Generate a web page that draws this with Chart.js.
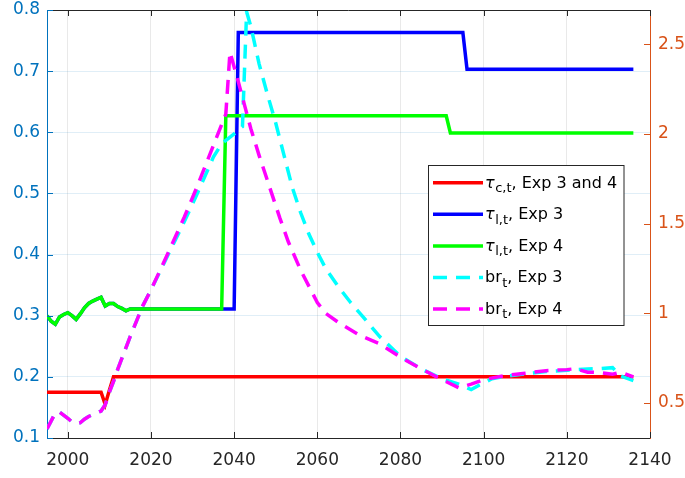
<!DOCTYPE html>
<html>
<head>
<meta charset="utf-8">
<script src="https://cdn.jsdelivr.net/npm/chart.js@4"></script>
<style>
  html, body { margin: 0; padding: 0; background: #ffffff; }
  canvas { display: block; }
</style>
</head>
<body>
<canvas id="chart" width="685" height="478"></canvas>
<script>
// ---- tick labels ----
const xTicks = [2000, 2020, 2040, 2060, 2080, 2100, 2120, 2140];
const leftTicks = [0.1, 0.2, 0.3, 0.4, 0.5, 0.6, 0.7, 0.8];
const rightTicks = [0.5, 1, 1.5, 2, 2.5];

// ---- consumption tax rate, Exp 3 and 4 ----
const yearsTauC = [1995, 2008, 2009, 2010, 2011, 2136];
const tauC      = [0.175, 0.175, 0.155, 0.178, 0.2, 0.2];

// ---- labour tax rate, Exp 3 ----
const yearsTauL3 = [1995, 1996, 1997, 1998, 1999, 2000, 2001, 2002, 2003, 2004, 2005,
                    2006, 2007, 2008, 2009, 2010, 2011, 2012, 2013, 2014, 2015,
                    2040, 2041, 2095, 2096, 2136];
const tauL3      = [0.300, 0.291, 0.286, 0.298, 0.302, 0.305, 0.300, 0.294, 0.303, 0.313, 0.320,
                    0.324, 0.327, 0.330, 0.316, 0.320, 0.320, 0.315, 0.312, 0.308, 0.311,
                    0.311, 0.763, 0.763, 0.703, 0.703];

// ---- labour tax rate, Exp 4 ----
const yearsTauL4 = [1995, 1996, 1997, 1998, 1999, 2000, 2001, 2002, 2003, 2004, 2005,
                    2006, 2007, 2008, 2009, 2010, 2011, 2012, 2013, 2014, 2015,
                    2037, 2038, 2091, 2092, 2136];
const tauL4      = [0.300, 0.291, 0.286, 0.298, 0.302, 0.305, 0.300, 0.294, 0.303, 0.313, 0.320,
                    0.324, 0.327, 0.330, 0.316, 0.320, 0.320, 0.315, 0.312, 0.308, 0.311,
                    0.311, 0.627, 0.627, 0.599, 0.599];

// ---- debt ratio br, Exp 3 ----
const yearsBr3 = [1995, 1997, 1998, 2000, 2001, 2002, 2003, 2004, 2005, 2006, 2007, 2008,
                  2009, 2010, 2011, 2012, 2015, 2018, 2020, 2024, 2028, 2031, 2035, 2037,
                  2040, 2042, 2043, 2044, 2046, 2048, 2050, 2052, 2054, 2056, 2058, 2060,
                  2062, 2065, 2068, 2071, 2075, 2080, 2085, 2090, 2094, 2097, 2099, 2102,
                  2105, 2110, 2115, 2120, 2125, 2128, 2131, 2133, 2136];
const br3      = [0.355, 0.445, 0.450, 0.415, 0.395, 0.385, 0.390, 0.410, 0.425, 0.435, 0.445, 0.455,
                  0.490, 0.560, 0.620, 0.687, 0.870, 1.040, 1.130, 1.320, 1.510, 1.660, 1.870, 1.945,
                  2.000, 2.040, 2.680, 2.600, 2.390, 2.220, 2.060, 1.880, 1.700, 1.560, 1.440, 1.340,
                  1.250, 1.150, 1.060, 0.980, 0.870, 0.760, 0.690, 0.635, 0.605, 0.575, 0.600, 0.635,
                  0.648, 0.663, 0.675, 0.683, 0.689, 0.692, 0.697, 0.650, 0.625];

// ---- debt ratio br, Exp 4 ----
const yearsBr4 = [1995, 1997, 1998, 2000, 2001, 2002, 2003, 2004, 2005, 2006, 2007, 2008,
                  2009, 2010, 2011, 2012, 2015, 2018, 2020, 2024, 2028, 2031, 2035, 2038,
                  2039, 2041, 2044, 2046, 2048, 2051, 2053, 2056, 2058, 2060, 2062, 2065,
                  2070, 2075, 2080, 2085, 2090, 2094, 2097, 2100, 2105, 2110, 2115, 2120,
                  2122, 2125, 2128, 2131, 2133, 2136];
const br4      = [0.355, 0.445, 0.450, 0.415, 0.395, 0.385, 0.390, 0.410, 0.425, 0.435, 0.445, 0.455,
                  0.490, 0.560, 0.620, 0.687, 0.870, 1.040, 1.130, 1.330, 1.535, 1.700, 1.935, 2.110,
                  2.456, 2.290, 2.030, 1.880, 1.740, 1.530, 1.400, 1.240, 1.150, 1.060, 1.000, 0.950,
                  0.880, 0.830, 0.755, 0.690, 0.630, 0.585, 0.605, 0.630, 0.652, 0.666, 0.680, 0.686,
                  0.691, 0.672, 0.670, 0.660, 0.672, 0.646];

const FONT = 'DejaVu Sans';
const LEFT_COLOR = '#0072BD';
const RIGHT_COLOR = '#D95319';
const DARK = '#262626';

const toPoints = (xs, ys) => xs.map((x, i) => ({ x: x, y: ys[i] }));

// legend text: [symbol, subscript, rest], symbol italic when Greek
const series = [
  { text: ['τ', 'c,t', ', Exp 3 and 4'], italic: true, years: yearsTauC, values: tauC,
    color: '#FF0000', axis: 'y', dash: [], order: 5 },
  { text: ['τ', 'l,t', ', Exp 3'], italic: true, years: yearsTauL3, values: tauL3,
    color: '#0000FF', axis: 'y', dash: [], order: 4 },
  { text: ['τ', 'l,t', ', Exp 4'], italic: true, years: yearsTauL4, values: tauL4,
    color: '#00FF00', axis: 'y', dash: [], order: 3 },
  { text: ['br', 't', ', Exp 3'], italic: false, years: yearsBr3, values: br3,
    color: '#00FFFF', axis: 'y2', dash: [14, 9], order: 2 },
  { text: ['br', 't', ', Exp 4'], italic: false, years: yearsBr4, values: br4,
    color: '#FF00FF', axis: 'y2', dash: [14, 9], order: 1 }
];

const LINE_WIDTH = 3.5;

const datasets = series.map(s => ({
  label: s.text.join(''),
  data: toPoints(s.years, s.values),
  borderColor: s.color,
  backgroundColor: s.color,
  borderWidth: LINE_WIDTH,
  borderDash: s.dash,
  borderCapStyle: 'butt',
  yAxisID: s.axis,
  pointRadius: 0,
  pointHoverRadius: 0,
  tension: 0,
  fill: false,
  order: s.order
}));

const setTicks = arr => scale => { scale.ticks = arr.map(v => ({ value: v })); };

// fixed axis sizes so the plot box sits at 47..650 x 10..438
const fitY = width => scale => {
  scale.width = width;
  scale.paddingTop = 10;
  scale.paddingBottom = 0;
};
const fitX = scale => {
  scale.height = 40;
  scale.paddingLeft = 0;
  scale.paddingRight = 0;
};

// box outline and inward tick marks
const framePlugin = {
  id: 'frame',
  afterDatasetsDraw(chart) {
    const { ctx, chartArea: a, scales } = chart;
    const len = 6;
    ctx.save();
    ctx.lineWidth = 1;
    ctx.strokeStyle = DARK;
    ctx.beginPath();
    ctx.moveTo(a.left, a.top + 0.5);
    ctx.lineTo(a.right, a.top + 0.5);
    xTicks.forEach(v => {
      const px = Math.round(scales.x.getPixelForValue(v)) + 0.5;
      ctx.moveTo(px, a.bottom); ctx.lineTo(px, a.bottom - len);
      ctx.moveTo(px, a.top); ctx.lineTo(px, a.top + len);
    });
    ctx.stroke();
    ctx.strokeStyle = LEFT_COLOR;
    ctx.beginPath();
    leftTicks.forEach(v => {
      const py = Math.round(scales.y.getPixelForValue(v)) + 0.5;
      ctx.moveTo(a.left, py); ctx.lineTo(a.left + len, py);
    });
    ctx.stroke();
    ctx.strokeStyle = RIGHT_COLOR;
    ctx.beginPath();
    rightTicks.forEach(v => {
      const py = Math.round(scales.y2.getPixelForValue(v)) + 0.5;
      ctx.moveTo(a.right, py); ctx.lineTo(a.right - len, py);
    });
    ctx.stroke();
    ctx.restore();
  }
};

// boxed legend with subscripted labels
const legendPlugin = {
  id: 'subLegend',
  afterDraw(chart) {
    const ctx = chart.ctx;
    const box = { x: 428.5, y: 165.5, w: 195.5, h: 160 };
    const firstRow = 182.7, rowStep = 31.6;
    ctx.save();
    ctx.fillStyle = '#ffffff';
    ctx.fillRect(box.x, box.y, box.w, box.h);
    ctx.strokeStyle = DARK;
    ctx.lineWidth = 1;
    ctx.strokeRect(box.x, box.y, box.w, box.h);
    series.forEach((s, i) => {
      const cy = firstRow + i * rowStep;
      ctx.save();
      ctx.strokeStyle = s.color;
      ctx.lineWidth = LINE_WIDTH;
      ctx.lineCap = 'butt';
      ctx.setLineDash(s.dash);
      ctx.beginPath();
      ctx.moveTo(433, cy);
      ctx.lineTo(483, cy);
      ctx.stroke();
      ctx.restore();
      const base = cy + 4.8;
      let x = 485;
      ctx.fillStyle = '#000000';
      ctx.textBaseline = 'alphabetic';
      ctx.textAlign = 'left';
      ctx.font = (s.italic ? 'italic ' : '') + '16px "' + FONT + '"';
      ctx.fillText(s.text[0], x, base);
      x += ctx.measureText(s.text[0]).width + 0.5;
      ctx.font = '13px "' + FONT + '"';
      ctx.fillText(s.text[1], x, base + 4.5);
      x += ctx.measureText(s.text[1]).width;
      ctx.font = '16px "' + FONT + '"';
      ctx.fillText(s.text[2], x, base);
    });
    ctx.restore();
  }
};

new Chart(document.getElementById('chart'), {
  type: 'line',
  data: { datasets: datasets },
  plugins: [framePlugin, legendPlugin],
  options: {
    responsive: false,
    animation: false,
    devicePixelRatio: 1,
    layout: { padding: 0 },
    plugins: { legend: { display: false }, tooltip: { enabled: false } },
    events: [],
    scales: {
      x: {
        type: 'linear',
        min: 1995,
        max: 2140,
        afterBuildTicks: setTicks(xTicks),
        afterFit: fitX,
        ticks: {
          color: DARK,
          font: { family: FONT, size: 17 },
          padding: 12,
          maxRotation: 0,
          autoSkip: false,
          callback: v => String(v)
        },
        grid: { color: 'rgba(38,38,38,0.10)', lineWidth: 1, drawTicks: false },
        border: { color: DARK, width: 1 }
      },
      y: {
        position: 'left',
        min: 0.1,
        max: 0.8,
        afterBuildTicks: setTicks(leftTicks),
        afterFit: fitY(47),
        ticks: {
          color: LEFT_COLOR,
          font: { family: FONT, size: 17 },
          padding: 7,
          callback: v => String(v)
        },
        grid: { color: 'rgba(0,114,189,0.12)', lineWidth: 1, drawTicks: false },
        border: { color: LEFT_COLOR, width: 1 }
      },
      y2: {
        position: 'right',
        min: 0.305,
        max: 2.69,
        afterBuildTicks: setTicks(rightTicks),
        afterFit: fitY(35),
        ticks: {
          color: RIGHT_COLOR,
          font: { family: FONT, size: 17 },
          padding: 8,
          callback: v => String(v)
        },
        grid: { drawOnChartArea: false, drawTicks: false },
        border: { color: RIGHT_COLOR, width: 1 }
      }
    }
  }
});
</script>
</body>
</html>
